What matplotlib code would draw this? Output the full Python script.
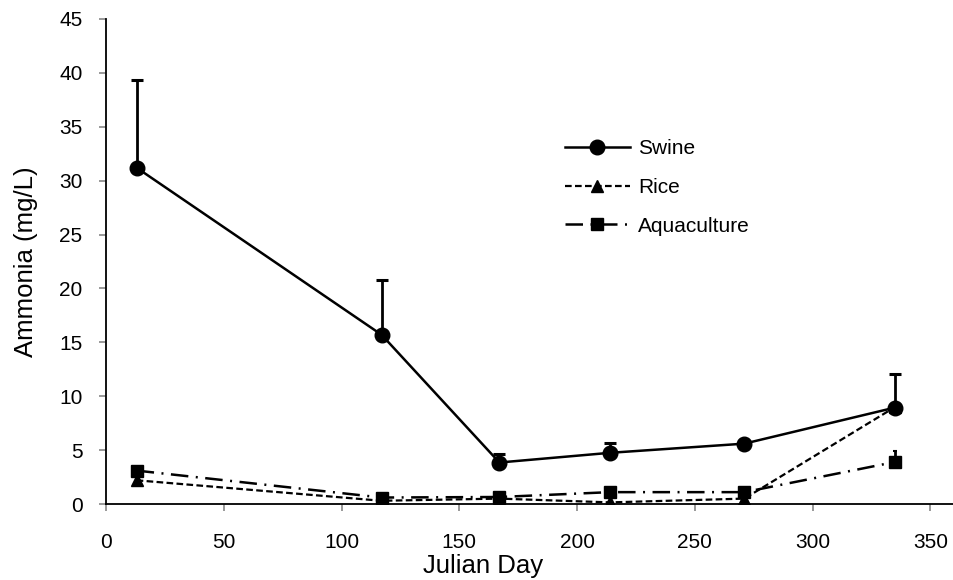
import matplotlib
matplotlib.use("Agg")
import matplotlib.pyplot as plt

plt.rcParams['font.family'] = ['Liberation Sans', 'DejaVu Sans']

# Sampling days and ammonia values (mg/L)
days = [13, 117, 167, 214, 271, 335]
swine = [31.2, 15.7, 3.85, 4.75, 5.6, 8.95]
swine_err = [8.1, 5.1, 0.75, 0.9, 0.2, 3.15]
rice = [2.2, 0.3, 0.5, 0.15, 0.5, 9.0]
aqua = [3.1, 0.6, 0.65, 1.1, 1.1, 3.9]
aqua_err = [0.0, 0.0, 0.0, 0.0, 0.0, 1.0]

W, H = 954, 580
fig = plt.figure(figsize=(W / 100, H / 100), dpi=100)
# plot area in pixels: x 106..954, y 19..504
ax = fig.add_axes([106 / W, 1 - 504 / H, 848 / W, 485 / H])

# upper error bars only
zeros = [0] * len(days)
ax.errorbar(days, swine, yerr=[zeros, swine_err], fmt='none',
            ecolor='black', elinewidth=2, capsize=4.5, capthick=2.2, zorder=2)
ax.errorbar(days, aqua, yerr=[zeros, aqua_err], fmt='none',
            ecolor='black', elinewidth=2, capsize=1.2, capthick=1.5, zorder=2)

ax.plot(days, swine, color='black', lw=1.8, ls='-', marker='o',
        markersize=10.5, label='Swine', zorder=3)
ax.plot(days, rice, color='black', lw=1.6, ls=(0, (3, 1.5)), marker='^',
        markersize=9, label='Rice', zorder=3)
ax.plot(days, aqua, color='black', lw=1.8, ls=(0, (7, 3, 0.8, 3)), marker='s',
        markersize=8.5, label='Aquaculture', zorder=3)

ax.set_xlim(0, 360)
ax.set_ylim(0, 45)
ax.set_xticks(range(0, 351, 50))
ax.set_yticks(range(0, 46, 5))

for s in ['top', 'right']:
    ax.spines[s].set_visible(False)
for s in ['left', 'bottom']:
    ax.spines[s].set_linewidth(1.3)

ax.tick_params(axis='both', direction='out', length=5, color='#888888',
               labelsize=15, width=1.2)
ax.tick_params(axis='x', pad=16)
ax.tick_params(axis='y', pad=12)

ax.set_xlabel('Julian Day', fontsize=18.5)
ax.set_ylabel('Ammonia (mg/L)', fontsize=18.5)
ax.xaxis.set_label_coords((483 - 106) / 848, (504 - 554) / 485)
ax.yaxis.set_label_coords((38 - 106) / 848, 0.5)

ax.legend(loc='upper left', bbox_to_anchor=(565 / W, 1 - 139 / H),
          bbox_transform=fig.transFigure, frameon=False, fontsize=15,
          handlelength=3.1, labelspacing=0.95, handletextpad=0.4,
          borderpad=0, borderaxespad=0)

fig.savefig('out.png', dpi=100)
